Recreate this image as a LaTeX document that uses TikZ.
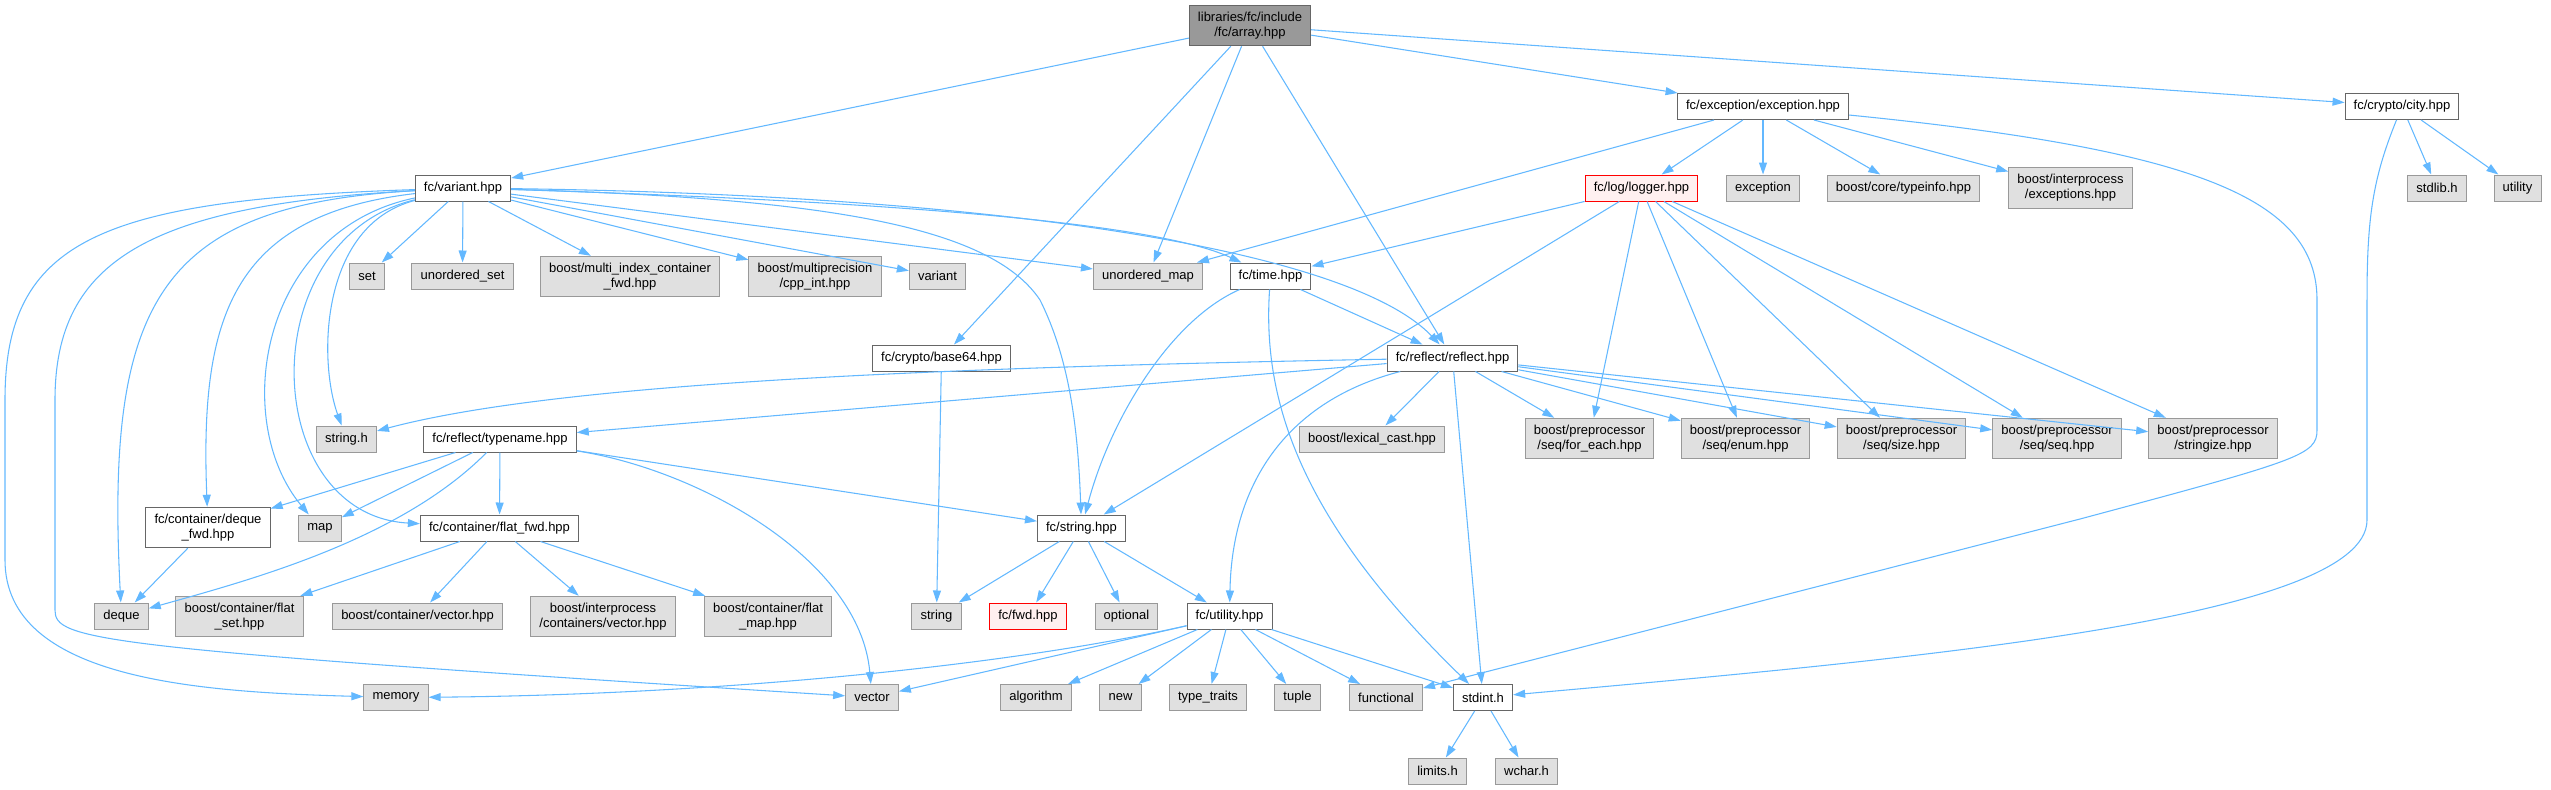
\documentclass[tikz,border=0pt]{standalone}
\usepackage{fontspec}
\setmainfont{Liberation Sans}
\usepackage{tikz}
\usetikzlibrary{arrows.meta}
\definecolor{edgeblue}{HTML}{63B8FF}
\definecolor{sysfill}{HTML}{E0E0E0}
\definecolor{sysline}{HTML}{999999}
\definecolor{hdrline}{HTML}{666666}
\definecolor{rootfill}{HTML}{999999}
\definecolor{missfill}{HTML}{FFF0F0}
\begin{document}
\begin{tikzpicture}[x=0.75pt, y=-0.75pt, >={Triangle[length=9pt,width=6pt]},
  font=\fontsize{9.75}{11.25}\selectfont,
  file/.style={draw, line width=0.75pt, align=center, inner xsep=6.5pt, inner ysep=5pt, minimum height=19.5pt},
  hdr/.style={file, draw=hdrline, fill=white},
  sys/.style={file, draw=sysline, fill=sysfill},
  root/.style={file, draw=hdrline, fill=rootfill},
  miss/.style={file, draw=red, fill=missfill},
  dep/.style={->, draw=edgeblue, line width=0.8pt}]
  \useasboundingbox (0,0) rectangle (2551,789);
  \node[root] (arr) at (1250,25.5) {libraries/fc/include\\/fc/array.hpp};
  \node[hdr] (exc) at (1763,106.5) {fc/exception/exception.hpp};
  \node[hdr] (cty) at (2402,106.5) {fc/crypto/city.hpp};
  \node[hdr] (var) at (463,188) {fc/variant.hpp};
  \node[miss] (lgr) at (1641.5,188) {fc/log/logger.hpp};
  \node[sys] (exn) at (1763,188) {exception};
  \node[sys] (tyi) at (1903.5,188) {boost/core/typeinfo.hpp};
  \node[sys] (ipe) at (2070.5,188) {boost/interprocess\\/exceptions.hpp};
  \node[sys] (sdl) at (2437,188) {stdlib.h};
  \node[sys] (uty) at (2517.5,188) {utility};
  \node[sys] (st) at (367,276) {set};
  \node[sys] (uns) at (462.5,276) {unordered\_set};
  \node[sys] (mic) at (630,276.5) {boost/multi\_index\_container\\\_fwd.hpp};
  \node[sys] (mpr) at (815,276.5) {boost/multiprecision\\/cpp\_int.hpp};
  \node[sys] (vnt) at (937.5,276) {variant};
  \node[sys] (unm) at (1148,276) {unordered\_map};
  \node[hdr] (tim) at (1270.5,276) {fc/time.hpp};
  \node[hdr] (b64) at (941.5,358) {fc/crypto/base64.hpp};
  \node[hdr] (ref) at (1452.5,358) {fc/reflect/reflect.hpp};
  \node[sys] (sth) at (346.5,439) {string.h};
  \node[hdr] (tyn) at (500,439) {fc/reflect/typename.hpp};
  \node[sys] (lex) at (1372,439) {boost/lexical\_cast.hpp};
  \node[sys] (pfe) at (1589.5,438.5) {boost/preprocessor\\/seq/for\_each.hpp};
  \node[sys] (pen) at (1745.5,438.5) {boost/preprocessor\\/seq/enum.hpp};
  \node[sys] (psz) at (1901.5,438.5) {boost/preprocessor\\/seq/size.hpp};
  \node[sys] (psq) at (2057,438.5) {boost/preprocessor\\/seq/seq.hpp};
  \node[sys] (pst) at (2213,438.5) {boost/preprocessor\\/stringize.hpp};
  \node[hdr] (dqf) at (208,527.5) {fc/container/deque\\\_fwd.hpp};
  \node[sys] (mp) at (320,528) {map};
  \node[hdr] (flt) at (499.5,528) {fc/container/flat\_fwd.hpp};
  \node[hdr] (str) at (1081.5,528) {fc/string.hpp};
  \node[sys] (dq) at (121.5,616) {deque};
  \node[sys] (fst) at (239.5,616.5) {boost/container/flat\\\_set.hpp};
  \node[sys] (cvc) at (417.5,616) {boost/container/vector.hpp};
  \node[sys] (ivc) at (603,616.5) {boost/interprocess\\/containers/vector.hpp};
  \node[sys] (fmp) at (768,616.5) {boost/container/flat\\\_map.hpp};
  \node[sys] (sng) at (936.5,616) {string};
  \node[miss] (fwd) at (1028,616) {fc/fwd.hpp};
  \node[sys] (opt) at (1126.5,616) {optional};
  \node[hdr] (utl) at (1229.5,616) {fc/utility.hpp};
  \node[sys] (mem) at (396,697.5) {memory};
  \node[sys] (vec) at (872,697.5) {vector};
  \node[sys] (alg) at (1036,697.5) {algorithm};
  \node[sys] (nw) at (1120.5,697.5) {new};
  \node[sys] (ttr) at (1208,697.5) {type\_traits};
  \node[sys] (tup) at (1297.5,697.5) {tuple};
  \node[sys] (fun) at (1386,697.5) {functional};
  \node[hdr] (sti) at (1483,697.5) {stdint.h};
  \node[sys] (lim) at (1437.5,771) {limits.h};
  \node[sys] (wch) at (1526.5,771) {wchar.h};

  \draw[dep](arr)--(var); \draw[dep](arr)--(b64); \draw[dep](arr)--(unm);
  \draw[dep](arr)--(ref); \draw[dep](arr)--(exc); \draw[dep](arr)--(cty);

  \draw[dep](var)--(st); \draw[dep](var)--(uns); \draw[dep](var)--(mic);
  \draw[dep](var)--(mpr); \draw[dep](var)--(vnt); \draw[dep](var)--(unm);
  \draw[dep](var) .. controls (850,200) and (1150,220) .. (tim);
  \draw[dep](var) .. controls (1000,195) and (1350,250) .. (ref);
  \draw[dep](var) .. controls (820,198) and (990,225) .. (1040,300)
    .. controls (1070,360) and (1078,430) .. (str);
  \draw[dep](var) .. controls (320,225) and (318,360) .. (sth);
  \draw[dep](var) .. controls (260,230) and (230,420) .. (mp);
  \draw[dep](var) .. controls (250,240) and (260,515) .. (flt);
  \draw[dep](var) .. controls (230,215) and (200,320) .. (dqf);
  \draw[dep](var) .. controls (160,205) and (105,300) .. (dq);
  \draw[dep](var) .. controls (150,205) and (55,260) .. (55,400) -- (55,610)
    .. controls (55,640) and (90,648) .. (vec);
  \draw[dep](var) .. controls (100,200) and (5,240) .. (5,400) -- (5,560)
    .. controls (5,680) and (200,692) .. (mem);

  \draw[dep](exc)--(unm); \draw[dep](exc)--(lgr); \draw[dep](exc)--(exn);
  \draw[dep](exc)--(tyi); \draw[dep](exc)--(ipe);
  \draw[dep](exc) .. controls (2200,150) and (2317,200) .. (2317,300) -- (2317,430)
    .. controls (2317,455) and (2300,460) .. (2080,519) -- (fun);

  \draw[dep](cty)--(sdl); \draw[dep](cty)--(uty);
  \draw[dep](cty) .. controls (2372,180) and (2367,220) .. (2367,300) -- (2367,520)
    .. controls (2367,620) and (1900,660) .. (sti);

  \draw[dep](lgr)--(tim); \draw[dep](lgr)--(str); \draw[dep](lgr)--(pfe);
  \draw[dep](lgr)--(pen); \draw[dep](lgr)--(psz); \draw[dep](lgr)--(psq);
  \draw[dep](lgr)--(pst);

  \draw[dep](tim)--(ref);
  \draw[dep](tim) .. controls (1170,320) and (1110,420) .. (str);
  \draw[dep](tim) .. controls (1262,400) and (1300,520) .. (sti);

  \draw[dep](b64)--(sng);

  \draw[dep](ref) .. controls (900,368) and (550,385) .. (sth);
  \draw[dep](ref)--(tyn); \draw[dep](ref)--(lex); \draw[dep](ref)--(sti);
  \draw[dep](ref) .. controls (1290,400) and (1232,480) .. (utl);
  \draw[dep](ref)--(pfe); \draw[dep](ref)--(pen); \draw[dep](ref)--(psz);
  \draw[dep](ref)--(psq); \draw[dep](ref)--(pst);

  \draw[dep](tyn)--(dqf); \draw[dep](tyn)--(mp); \draw[dep](tyn)--(flt);
  \draw[dep](tyn)--(str);
  \draw[dep](tyn) .. controls (400,540) and (250,580) .. (dq);
  \draw[dep](tyn) .. controls (700,470) and (860,560) .. (vec);

  \draw[dep](dqf)--(dq);
  \draw[dep](flt)--(fst); \draw[dep](flt)--(cvc); \draw[dep](flt)--(ivc);
  \draw[dep](flt)--(fmp);

  \draw[dep](str)--(sng); \draw[dep](str)--(fwd); \draw[dep](str)--(opt);
  \draw[dep](str)--(utl);

  \draw[dep](utl) .. controls (1000,668) and (700,695) .. (mem);
  \draw[dep](utl)--(vec); \draw[dep](utl)--(alg); \draw[dep](utl)--(nw);
  \draw[dep](utl)--(ttr); \draw[dep](utl)--(tup); \draw[dep](utl)--(fun);
  \draw[dep](utl)--(sti);

  \draw[dep](sti)--(lim); \draw[dep](sti)--(wch);
\end{tikzpicture}
\end{document}
